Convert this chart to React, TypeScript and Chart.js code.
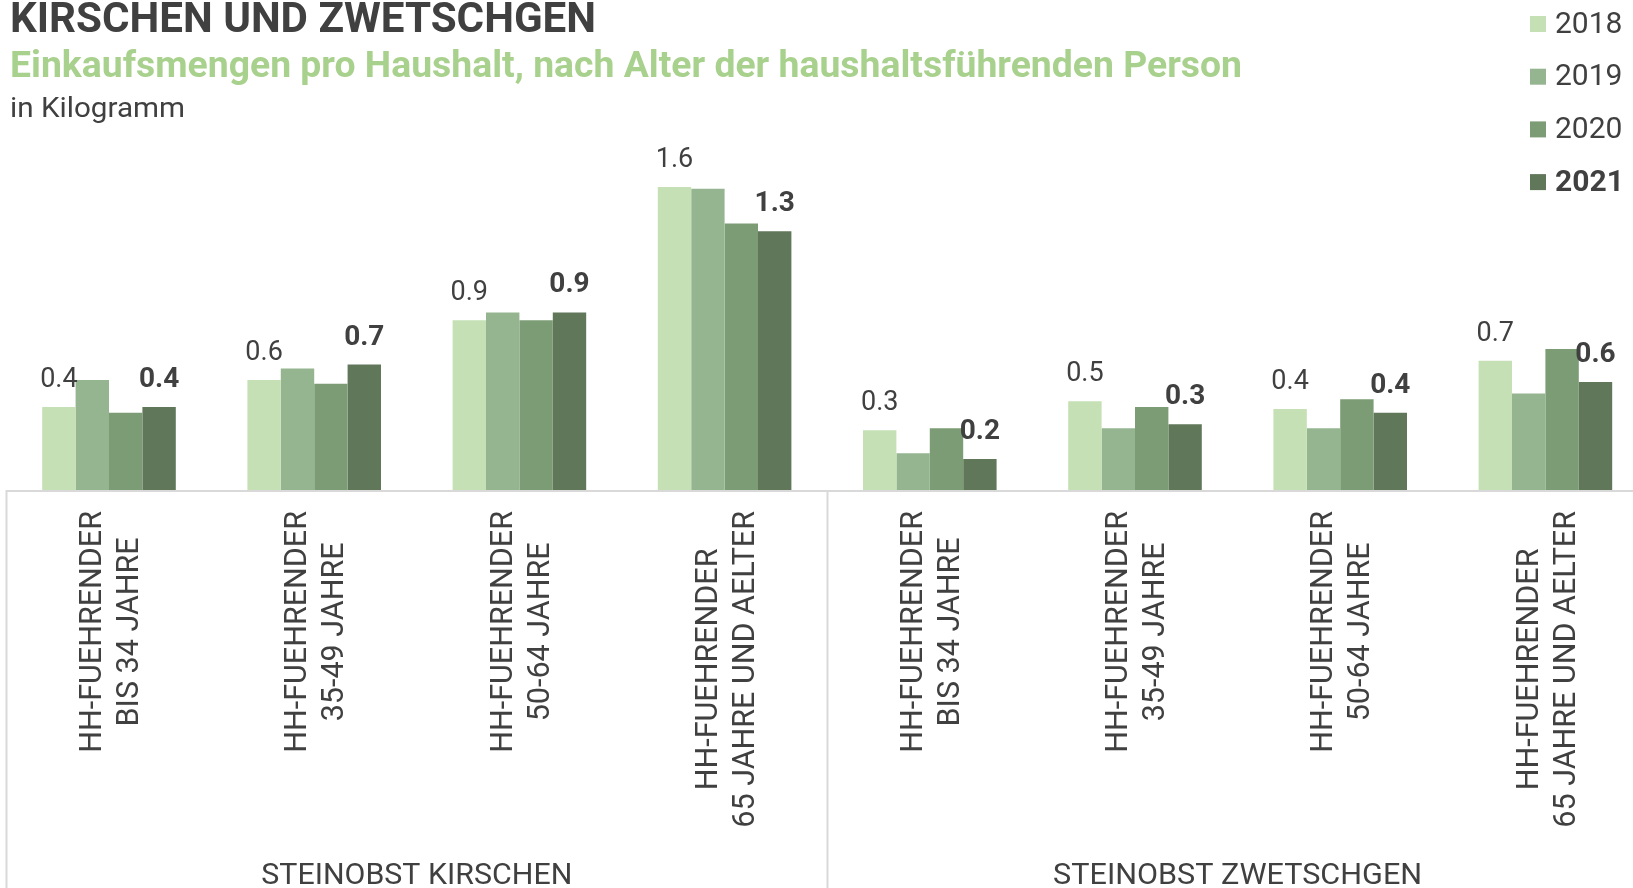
import React, { useEffect, useRef } from "react";
import { Chart, registerables } from "chart.js";

Chart.register(...registerables);

// ---------- data ----------
const categories: string[][] = [
  ["HH-FUEHRENDER", "BIS 34 JAHRE"],
  ["HH-FUEHRENDER", "35-49 JAHRE"],
  ["HH-FUEHRENDER", "50-64 JAHRE"],
  ["HH-FUEHRENDER", "65 JAHRE UND AELTER"],
  ["HH-FUEHRENDER", "BIS 34 JAHRE"],
  ["HH-FUEHRENDER", "35-49 JAHRE"],
  ["HH-FUEHRENDER", "50-64 JAHRE"],
  ["HH-FUEHRENDER", "65 JAHRE UND AELTER"],
];
const groupLabels = ["STEINOBST KIRSCHEN", "STEINOBST ZWETSCHGEN"];
const groupSizes = [4, 4];

const seriesLabels = ["2018", "2019", "2020", "2021"];
const v2018 = [0.43, 0.57, 0.88, 1.57, 0.31, 0.46, 0.42, 0.67];
const v2019 = [0.57, 0.63, 0.92, 1.56, 0.19, 0.32, 0.32, 0.5];
const v2020 = [0.4, 0.55, 0.88, 1.38, 0.32, 0.43, 0.47, 0.73];
const v2021 = [0.43, 0.65, 0.92, 1.34, 0.16, 0.34, 0.4, 0.56];
const seriesColors = ["#C5E0B4", "#95B590", "#7C9C75", "#60775A"];
const labeledSeries = [0, 3];
const boldSeries = [3];

const titleText = "KIRSCHEN UND ZWETSCHGEN";
const subtitleText =
  "Einkaufsmengen pro Haushalt, nach Alter der haushaltsführenden Person";
const unitText = "in Kilogramm";

// ---------- styles ----------
const TEXT = "#404040";
const GREEN = "#A9D18E";
const GRID = "#D9D9D9";
const FONT = "Roboto, 'Noto Sans', 'DejaVu Sans', sans-serif";

function drawText(
  ctx: CanvasRenderingContext2D,
  text: string,
  x: number,
  y: number,
  font: string,
  color: string,
  align: CanvasTextAlign = "left",
  width?: number,
  baseline: CanvasTextBaseline = "alphabetic"
) {
  ctx.save();
  ctx.font = font;
  ctx.fillStyle = color;
  ctx.textAlign = align;
  ctx.textBaseline = baseline;
  const w = ctx.measureText(text).width;
  const s = width ? width / w : 1;
  ctx.translate(x, y);
  ctx.scale(s, 1);
  ctx.fillText(text, 0, 0);
  ctx.restore();
}

const decorPlugin = {
  id: "decor",
  afterDraw(chart: any) {
    const ctx: CanvasRenderingContext2D = chart.ctx;
    const area = chart.chartArea;
    const xs = chart.scales.x;
    const n = categories.length;
    const catW = (area.right - area.left) / n;

    // headings
    drawText(ctx, titleText, 10, 32, `bold 42px ${FONT}`, TEXT, "left", 586);
    drawText(ctx, subtitleText, 10, 77, `bold 37px ${FONT}`, GREEN, "left", 1232);
    drawText(ctx, unitText, 10, 117, `28px ${FONT}`, TEXT, "left", 175);

    // legend
    chart.data.datasets.forEach((ds: any, i: number) => {
      const cy = 24 + i * 52.7;
      ctx.fillStyle = ds.backgroundColor;
      ctx.fillRect(1530, cy - 8, 16, 16);
      const bold = boldSeries.includes(i);
      drawText(
        ctx,
        ds.label,
        1555,
        cy + 1,
        `${bold ? "bold " : ""}30px ${FONT}`,
        TEXT,
        "left",
        undefined,
        "middle"
      );
    });

    // axis line
    ctx.save();
    ctx.strokeStyle = GRID;
    ctx.lineWidth = 2;
    ctx.beginPath();
    ctx.moveTo(area.left, area.bottom + 1);
    ctx.lineTo(chart.width, area.bottom + 1);
    ctx.stroke();

    // group separators
    const bounds = [0];
    let acc = 0;
    groupSizes.forEach((g) => {
      acc += g;
      bounds.push(acc);
    });
    bounds.forEach((b) => {
      if (b >= n) return;
      const px = Math.round(xs.getPixelForValue(b) - catW / 2) + 0.5;
      ctx.beginPath();
      ctx.moveTo(px, area.bottom);
      ctx.lineTo(px, chart.height);
      ctx.stroke();
    });
    ctx.restore();

    // group labels
    for (let g = 0; g < groupLabels.length; g++) {
      const l = xs.getPixelForValue(bounds[g]) - catW / 2;
      const r = Math.min(xs.getPixelForValue(bounds[g + 1] - 1) + catW / 2, area.right);
      const w = g === 0 ? 311 : 369;
      drawText(ctx, groupLabels[g], (l + r) / 2, 884, `29px ${FONT}`, TEXT, "center", w);
    }

    // category labels (rotated, centered lines)
    ctx.save();
    ctx.font = `30.5px ${FONT}`;
    ctx.fillStyle = TEXT;
    ctx.textAlign = "center";
    ctx.textBaseline = "middle";
    categories.forEach((lines, i) => {
      const cx = xs.getPixelForValue(i) + 2;
      const maxW = Math.max(...lines.map((t) => ctx.measureText(t).width));
      ctx.save();
      ctx.translate(cx, 511);
      ctx.rotate(-Math.PI / 2);
      const lh = 37;
      lines.forEach((t, k) => {
        const off = (k - (lines.length - 1) / 2) * lh;
        ctx.fillText(t, -maxW / 2, off + 1);
      });
      ctx.restore();
    });
    ctx.restore();

    // value labels
    labeledSeries.forEach((si) => {
      const meta = chart.getDatasetMeta(si);
      const data = chart.data.datasets[si].data;
      const bold = boldSeries.includes(si);
      meta.data.forEach((bar: any, j: number) => {
        const v = data[j] as number;
        const txt = (Math.round(v * 10) / 10).toFixed(1);
        drawText(
          ctx,
          txt,
          bar.x,
          bar.y - 20,
          `${bold ? "bold 28px" : "27px"} ${FONT}`,
          TEXT,
          "center"
        );
      });
    });
  },
};

export default function App() {
  const ref = useRef<HTMLCanvasElement | null>(null);

  useEffect(() => {
    document.body.style.margin = "0";
    document.body.style.overflow = "hidden";
    if (!ref.current) return;
    const series = [v2018, v2019, v2020, v2021];
    const chart = new Chart(ref.current, {
      type: "bar",
      data: {
        labels: categories.map((c) => c.join(" ")),
        datasets: series.map((d, i) => ({
          label: seriesLabels[i],
          data: d,
          backgroundColor: seriesColors[i],
          borderWidth: 0,
          barPercentage: 1,
          categoryPercentage: 0.651,
        })),
      },
      options: {
        animation: false,
        responsive: true,
        maintainAspectRatio: false,
        layout: { padding: { left: 6.4, right: 2, top: 130, bottom: 398 } },
        scales: {
          x: { display: false },
          y: { display: false, min: 0, max: 1.865 },
        },
        plugins: {
          legend: { display: false },
          tooltip: { enabled: false },
          title: { display: false },
        },
      },
      plugins: [decorPlugin],
    });
    return () => chart.destroy();
  }, []);

  return (
    <div
      style={{
        position: "fixed",
        left: 0,
        top: 0,
        width: "100vw",
        height: "100vh",
        overflow: "hidden",
        background: "#ffffff",
      }}
    >
      <div style={{ position: "relative", width: 1650, height: 888 }}>
        <canvas ref={ref} />
      </div>
    </div>
  );
}
